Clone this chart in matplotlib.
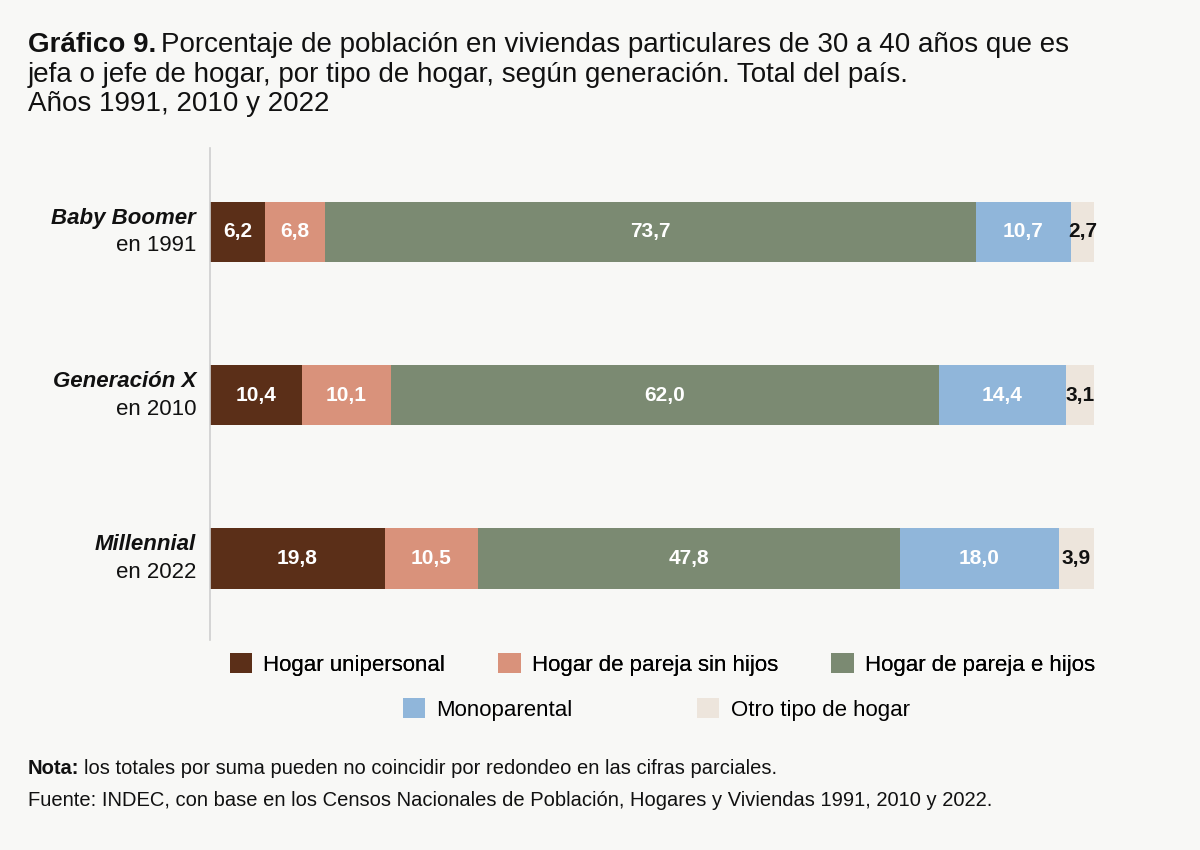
import matplotlib
matplotlib.use("Agg")
import matplotlib.pyplot as plt
import numpy as np

# ---- data ----
generations = ["Baby Boomer", "Generación X", "Millennial"]
years = ["en 1991", "en 2010", "en 2022"]
series_names = ["Hogar unipersonal", "Hogar de pareja sin hijos",
                "Hogar de pareja e hijos", "Monoparental", "Otro tipo de hogar"]
unipersonal = [6.2, 10.4, 19.8]
pareja_sin_hijos = [6.8, 10.1, 10.5]
pareja_e_hijos = [73.7, 62.0, 47.8]
monoparental = [10.7, 14.4, 18.0]
otro = [2.7, 3.1, 3.9]
series_values = [unipersonal, pareja_sin_hijos, pareja_e_hijos, monoparental, otro]
colors = ["#5b2f18", "#d9927b", "#7b8a72", "#90b6da", "#ede5dc"]
label_colors = ["white", "white", "white", "white", "#111111"]

BG = "#f8f8f6"
FONT = ["Liberation Sans", "DejaVu Sans"]
plt.rcParams["font.family"] = FONT

fig = plt.figure(figsize=(12, 8.5), dpi=100, facecolor=BG)
ax = fig.add_axes([0.175, 0.247, 0.737, 0.579])
ax.set_facecolor(BG)

y = np.arange(len(generations))
left = np.zeros(len(generations))
containers = []
for name, vals, col, lc in zip(series_names, series_values, colors, label_colors):
    vals = np.array(vals)
    bc = ax.barh(y, vals, left=left, height=0.37, color=col, label=name)
    ax.bar_label(bc, labels=[f"{v:.1f}".replace(".", ",") for v in vals],
                 label_type="center", color=lc, fontsize=15, fontweight="bold")
    containers.append(bc)
    left = left + vals

ax.set_xlim(0, 100.1)
ax.set_ylim(2.5, -0.515)
ax.set_xticks([])
ax.set_yticks(y)
ax.set_yticklabels([])
ax.tick_params(axis="y", length=0)
for s in ["top", "right", "bottom"]:
    ax.spines[s].set_visible(False)
ax.spines["left"].set_color("#cfcfcf")
ax.spines["left"].set_linewidth(1.2)

# y labels (two lines: bold italic generation + regular year)
for yi, g, yr in zip(y, generations, years):
    ax.annotate(g, xy=(0, yi), xycoords=("axes fraction", "data"),
                xytext=(-10, 10), textcoords="offset points",
                ha="right", va="center", fontsize=16, fontweight="bold",
                fontstyle="italic", color="#111111")
    ax.annotate(yr, xy=(0, yi), xycoords=("axes fraction", "data"),
                xytext=(-10, -10), textcoords="offset points",
                ha="right", va="center", fontsize=16, color="#111111")

# legends
h = containers
leg1 = fig.legend(h[:3], series_names[:3], ncol=3, loc="center",
                  bbox_to_anchor=(0.552, 0.218), frameon=False, fontsize=16,
                  handlelength=1.0, handleheight=1.0, handletextpad=0.5,
                  columnspacing=2.4)
leg2 = fig.legend(h[3:], series_names[3:], ncol=2, loc="center",
                  bbox_to_anchor=(0.547, 0.165), frameon=False, fontsize=16,
                  handlelength=1.0, handleheight=1.0, handletextpad=0.5,
                  columnspacing=5.6)
fig.add_artist(leg1)

# title with bold prefix
renderer = fig.canvas.get_renderer()
tx, ty = 28 / 1200, 1 - 45 / 850
TS = 20
t_bold = fig.text(tx, ty, "Gráfico 9.", fontsize=TS, fontweight="bold",
                  va="center", ha="left", color="#111111")
bb = t_bold.get_window_extent(renderer)
fig.text((bb.x1 + 5) / 1200, ty,
         "Porcentaje de población en viviendas particulares de 30 a 40 años que es",
         fontsize=TS, va="center", ha="left", color="#111111")
fig.text(tx, 1 - 75 / 850,
         "jefa o jefe de hogar, por tipo de hogar, según generación. Total del país.",
         fontsize=TS, va="center", ha="left", color="#111111")
fig.text(tx, 1 - 104 / 850, "Años 1991, 2010 y 2022",
         fontsize=TS, va="center", ha="left", color="#111111")

# notes
NS = 14.5
nb = fig.text(tx, 1 - 768 / 850, "Nota:", fontsize=NS, fontweight="bold",
              va="center", ha="left", color="#111111")
bbn = nb.get_window_extent(renderer)
fig.text((bbn.x1 + 4) / 1200, 1 - 768 / 850,
         "los totales por suma pueden no coincidir por redondeo en las cifras parciales.",
         fontsize=NS, va="center", ha="left", color="#111111")
fig.text(tx, 1 - 800 / 850,
         "Fuente: INDEC, con base en los Censos Nacionales de Población, Hogares y Viviendas 1991, 2010 y 2022.",
         fontsize=NS, va="center", ha="left", color="#111111")

fig.savefig("out.png", dpi=100, facecolor=BG)
